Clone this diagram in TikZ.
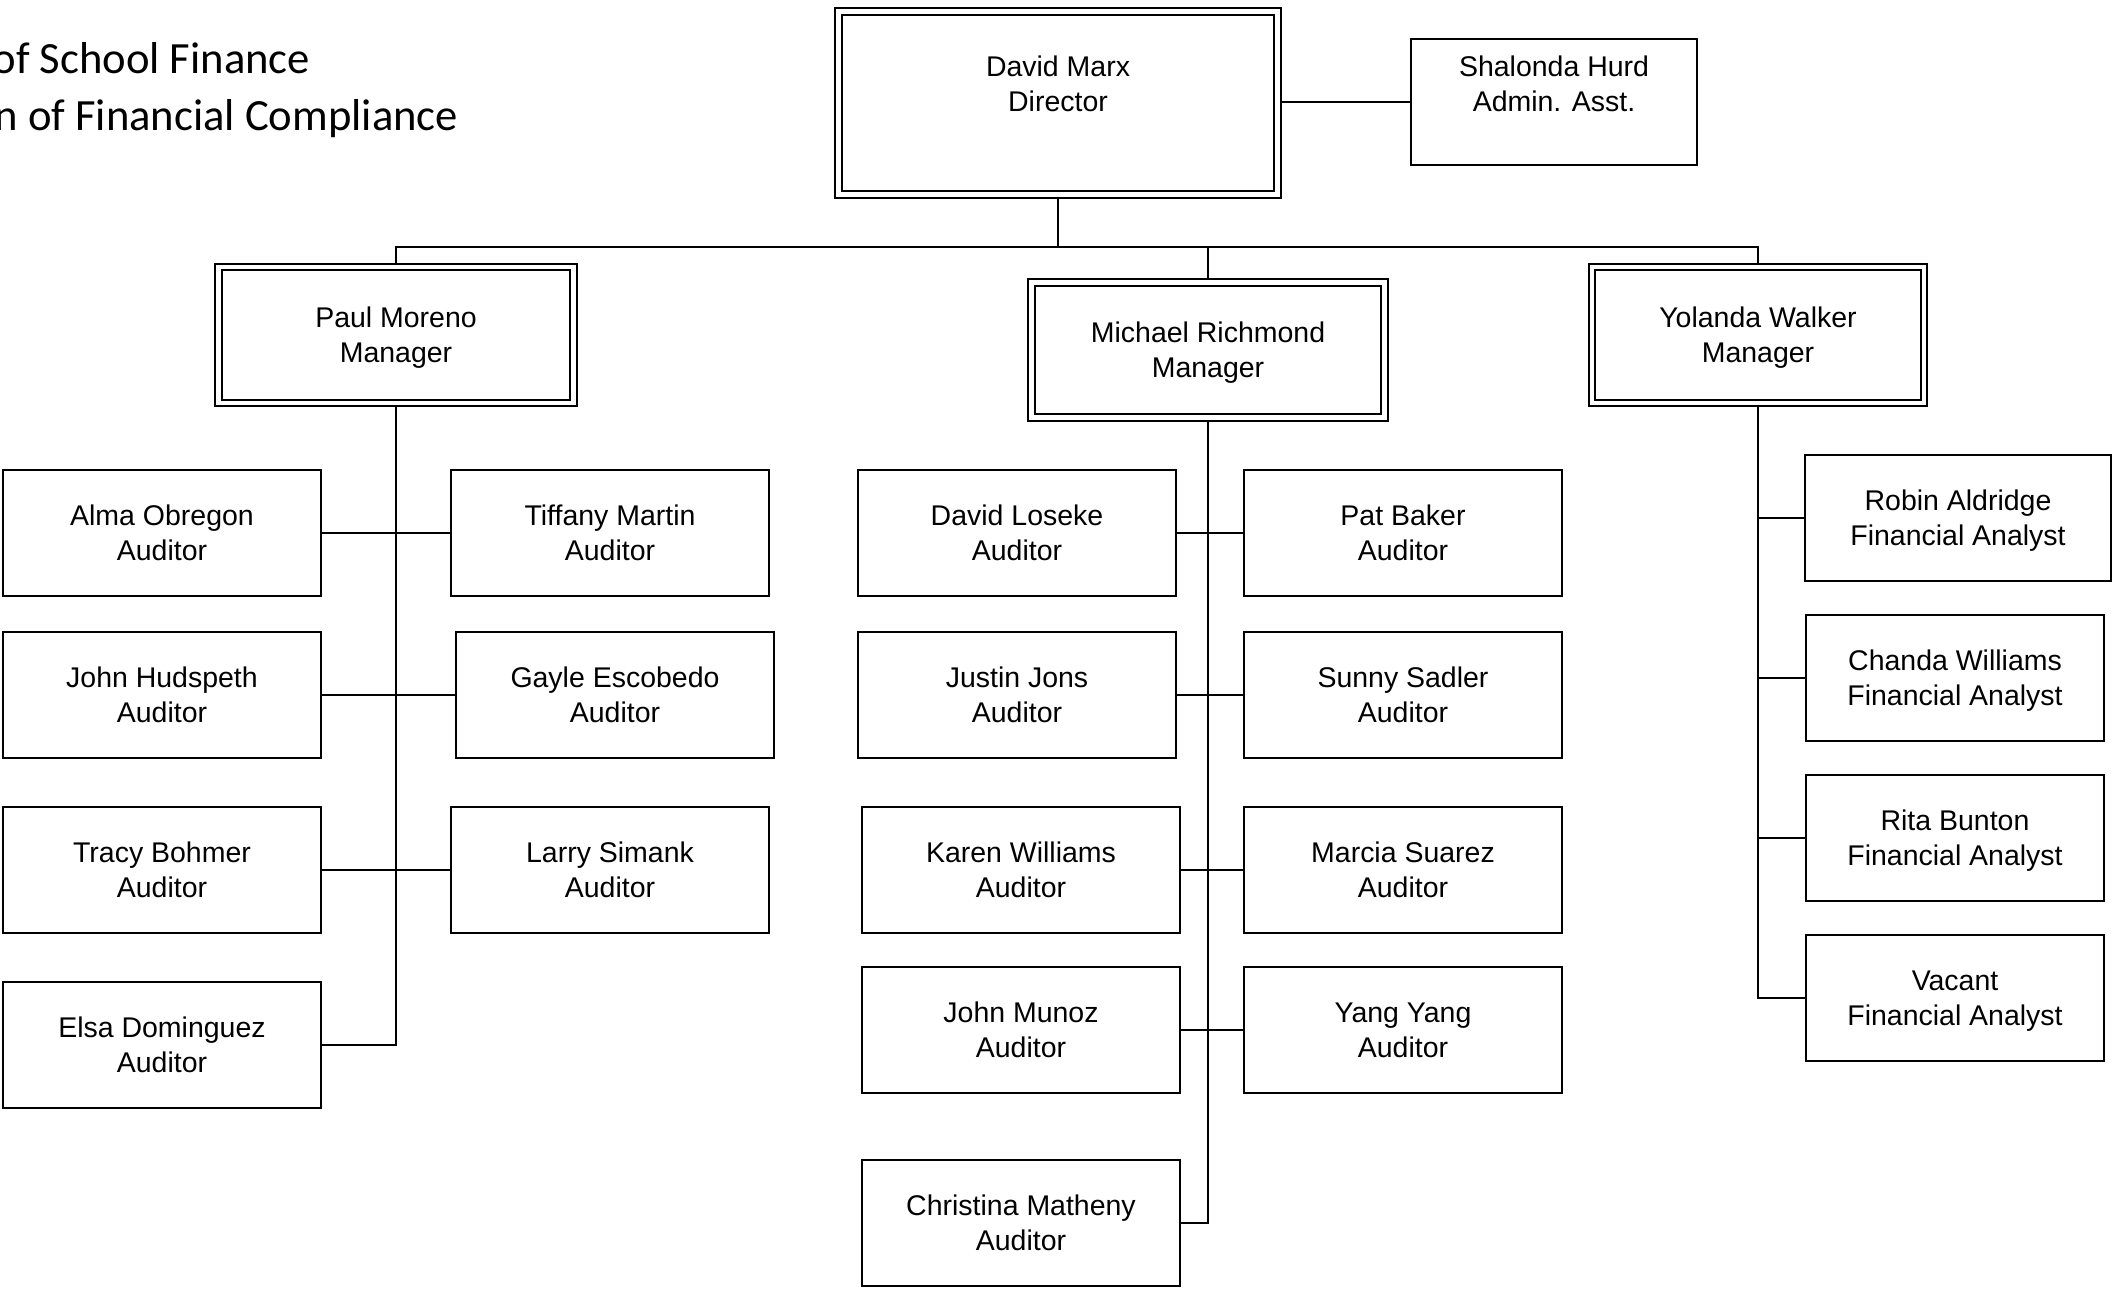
\documentclass[tikz,border=0pt]{standalone}
\usepackage{fontspec}
\setmainfont{Liberation Sans}
\newfontfamily\titlefont{Carlito}

\begin{document}
\begin{tikzpicture}[x=0.01cm,y=-0.01cm,
  every node/.style={font=\fontsize{8.1}{10}\selectfont, align=center, inner sep=0pt, text depth=0pt},
  boss/.style={draw, line width=0.57pt, double, double distance=1.33pt, outer sep=1.2pt},
  staff/.style={draw, line width=0.57pt, minimum width=3.17cm, minimum height=1.26cm},
  analyst/.style={staff, minimum width=2.98cm},
  link/.style={line width=0.57pt}]
 \useasboundingbox (0,0) rectangle (2113,1289);
%Title
 \node[anchor=base east, font=\titlefont\fontsize{12.7}{16}\selectfont] (title1) at (311,74) {of School Finance};
 \node[anchor=base east, font=\titlefont\fontsize{12.7}{16}\selectfont] (title2) at (459,131) {n of Financial Compliance};
%Director and assistant
 \node[boss, minimum width=4.39cm, minimum height=1.83cm] (marx) at (1058,103) {};
 \node (marxtxt) at (1058,84) {David Marx\\Director};
 \node[staff, minimum width=2.86cm] (hurd) at (1554,102) {};
 \node (hurdtxt) at (1554,84) {Shalonda Hurd\\Admin. Asst.};
%Managers
 \node[boss, minimum width=3.55cm, minimum height=1.36cm] (moreno) at (396,335) {Paul Moreno\\Manager};
 \node[boss, minimum width=3.53cm, minimum height=1.35cm] (richmond) at (1208,350) {Michael Richmond\\Manager};
 \node[boss, minimum width=3.32cm, minimum height=1.36cm] (walker) at (1758,335) {Yolanda Walker\\Manager};
%Moreno group
 \node[staff] (obregon) at (162,533) {Alma Obregon\\Auditor};
 \node[staff] (hudspeth) at (162,695) {John Hudspeth\\Auditor};
 \node[staff] (bohmer) at (162,870) {Tracy Bohmer\\Auditor};
 \node[staff] (dominguez) at (162,1045) {Elsa Dominguez\\Auditor};
 \node[staff] (martin) at (610,533) {Tiffany Martin\\Auditor};
 \node[staff] (escobedo) at (615,695) {Gayle Escobedo\\Auditor};
 \node[staff] (simank) at (610,870) {Larry Simank\\Auditor};
%Richmond group
 \node[staff] (loseke) at (1017,533) {David Loseke\\Auditor};
 \node[staff] (jons) at (1017,695) {Justin Jons\\Auditor};
 \node[staff] (kwilliams) at (1021,870) {Karen Williams\\Auditor};
 \node[staff] (munoz) at (1021,1030) {John Munoz\\Auditor};
 \node[staff] (matheny) at (1021,1223) {Christina Matheny\\Auditor};
 \node[staff] (baker) at (1403,533) {Pat Baker\\Auditor};
 \node[staff] (sadler) at (1403,695) {Sunny Sadler\\Auditor};
 \node[staff] (suarez) at (1403,870) {Marcia Suarez\\Auditor};
 \node[staff] (yang) at (1403,1030) {Yang Yang\\Auditor};
%Walker group
 \node[analyst, minimum width=3.05cm] (aldridge) at (1958,518) {Robin Aldridge\\Financial Analyst};
 \node[analyst] (cwilliams) at (1955,678) {Chanda Williams\\Financial Analyst};
 \node[analyst] (bunton) at (1955,838) {Rita Bunton\\Financial Analyst};
 \node[analyst] (vacant) at (1955,998) {Vacant\\Financial Analyst};
%Lines
 \coordinate (bus) at (1058,247);
 \draw[link] (marx.south) -- (bus);
 \draw[link] (hurd.west) -- (hurd.west -| marx.east);
 \draw[link] (moreno.north) |- (bus) -| (walker.north);
 \draw[link] (richmond.north) -- (richmond.north |- bus);
 %Moreno
 \draw[link] (moreno.south) |- (dominguez.east);
 \draw[link] (obregon.east) -- (martin.west);
 \draw[link] (hudspeth.east) -- (escobedo.west);
 \draw[link] (bohmer.east) -- (simank.west);
 %Richmond
 \draw[link] (richmond.south) |- (matheny.east);
 \draw[link] (loseke.east) -- (baker.west);
 \draw[link] (jons.east) -- (sadler.west);
 \draw[link] (kwilliams.east) -- (suarez.west);
 \draw[link] (munoz.east) -- (yang.west);
 %Walker
 \draw[link] (walker.south) |- (vacant.west);
 \foreach \n in {aldridge,cwilliams,bunton}
   \draw[link] (\n.west) -- (\n.west -| walker.south);
\end{tikzpicture}
\end{document}
